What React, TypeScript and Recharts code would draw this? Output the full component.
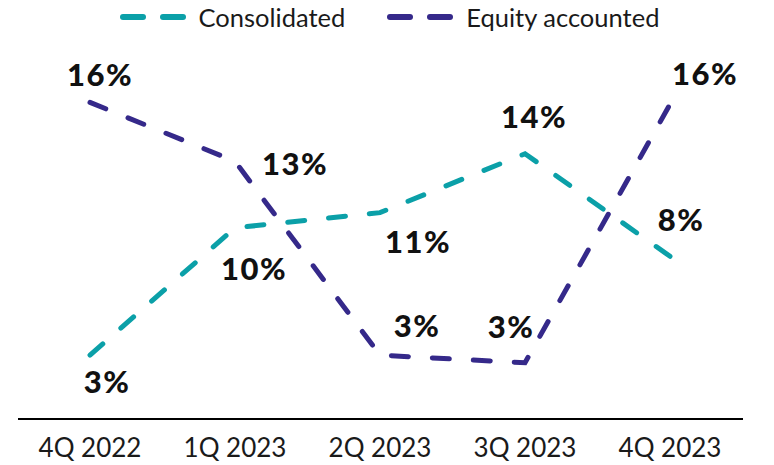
import React from 'react';
import { LineChart, Line, XAxis, YAxis, Legend, LabelList } from 'recharts';

const quarters = ['4Q 2022', '1Q 2023', '2Q 2023', '3Q 2023', '4Q 2023'];
const consolidated = [3.1, 9.8, 10.6, 13.7, 8.3];
const equityAccounted = [16.4, 13.3, 3.1, 2.7, 16.3];

const TEAL = '#0BA0A8';
const PURPLE = '#35298A';

// where each value label sits relative to its point: [dx, dy to baseline]
const consolidatedLabelPos = [[17, 38], [19, 52], [38, 40], [9, -26], [11, -25]];
const equityLabelPos = [[10, -16], [60, 14], [37, -18], [-14, -25], [35, -19]];

const data = quarters.map((q, i) => ({
  quarter: q,
  consolidated: consolidated[i],
  equity: equityAccounted[i],
}));

const makeLabel = (pos: number[][]) => (props: any) => {
  const { x, y, value, index } = props;
  const [dx, dy] = pos[index];
  return (
    <text
      x={x + dx}
      y={y + dy}
      textAnchor="middle"
      fontFamily="Lato, sans-serif"
      fontWeight={900}
      fontSize={31}
      letterSpacing={1.5}
      fill="#111"
    >
      {Math.round(value)}%
    </text>
  );
};

const LegendIcon = ({ color }: { color: string }) => (
  <svg width={68} height={10} style={{ display: 'block' }}>
    <line x1={4} y1={5} x2={24} y2={5} stroke={color} strokeWidth={6} strokeLinecap="round" />
    <line x1={44} y1={5} x2={64} y2={5} stroke={color} strokeWidth={6} strokeLinecap="round" />
  </svg>
);

const renderLegend = () => (
  <div style={{ height: 72, display: 'flex', justifyContent: 'center', paddingLeft: 17 }}>
    {[
      { name: 'Consolidated', color: TEAL },
      { name: 'Equity accounted', color: PURPLE },
    ].map((item, i) => (
      <div
        key={item.name}
        style={{
          display: 'flex',
          alignItems: 'center',
          height: 34,
          marginLeft: i ? 41 : 0,
          fontFamily: 'Lato, sans-serif',
          fontSize: 25.5,
          color: '#1a1a1a',
        }}
      >
        <LegendIcon color={item.color} />
        <span style={{ marginLeft: 12 }}>{item.name}</span>
      </div>
    ))}
  </div>
);

export default function App() {
  return (
    <div style={{ position: 'absolute', left: 0, top: 0, width: 774, height: 465, background: '#fff' }}>
      <LineChart width={774} height={465} data={data} margin={{ top: 0, right: 31, bottom: 0, left: 18 }}>
        <Legend verticalAlign="top" align="center" content={renderLegend} height={72} />
        <XAxis
          dataKey="quarter"
          padding={{ left: 72, right: 73 }}
          axisLine={{ stroke: '#000', strokeWidth: 2 }}
          tickLine={false}
          tickSize={0}
          tickMargin={20}
          height={46}
          tick={{ fontFamily: 'Lato, sans-serif', fontSize: 26, fill: '#1a1a1a' }}
        />
        <YAxis hide domain={[-0.26, 18]} />
        <Line
          dataKey="consolidated"
          stroke={TEAL}
          strokeWidth={5}
          strokeDasharray="17 24"
          strokeLinecap="round"
          dot={false}
          activeDot={false}
          isAnimationActive={false}
        >
          <LabelList dataKey="consolidated" content={makeLabel(consolidatedLabelPos)} />
        </Line>
        <Line
          dataKey="equity"
          stroke={PURPLE}
          strokeWidth={5}
          strokeDasharray="17 24"
          strokeLinecap="round"
          dot={false}
          activeDot={false}
          isAnimationActive={false}
        >
          <LabelList dataKey="equity" content={makeLabel(equityLabelPos)} />
        </Line>
      </LineChart>
    </div>
  );
}
